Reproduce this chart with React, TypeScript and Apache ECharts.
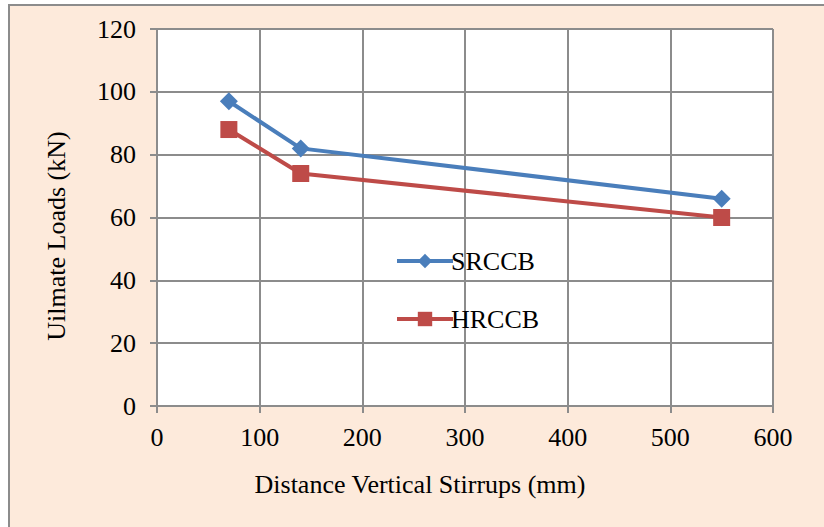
import React, { useEffect, useRef } from "react";
import * as echarts from "echarts";

const xValues = [70, 140, 550];
const srccb = [97, 82, 66];
const hrccb = [88, 74, 60];
const seriesNames = ["SRCCB", "HRCCB"];
const xTitle = "Distance Vertical Stirrups (mm)";
const yTitle = "Uilmate Loads (kN)";

const FONT = "Liberation Serif";
const FS = 26;

export default function App() {
  const ref = useRef<HTMLDivElement>(null);
  useEffect(() => {
    const chart = echarts.init(ref.current!, null, { renderer: "svg" });
    const axisStyle = { color: "#8c8c8c", width: 2 };
    chart.setOption({
      animation: false,
      backgroundColor: "#ffffff",
      graphic: [
        {
          type: "rect",
          z: -10,
          silent: true,
          shape: { x: 9, y: 5, width: 830, height: 540 },
          style: { fill: "#FDEADB", stroke: "#8c8c8c", lineWidth: 2 },
        },
        {
          type: "text",
          x: 420,
          y: 484,
          style: {
            text: xTitle,
            fontFamily: FONT,
            fontSize: FS,
            fill: "#000",
            textAlign: "center",
            textVerticalAlign: "middle",
          },
        },
        {
          type: "text",
          x: 56,
          y: 236,
          rotation: Math.PI / 2,
          style: {
            text: yTitle,
            fontFamily: FONT,
            fontSize: FS,
            fill: "#000",
            textAlign: "center",
            textVerticalAlign: "middle",
          },
        },
      ],
      grid: {
        left: 157,
        top: 29,
        right: 51,
        bottom: 121,
        show: true,
        backgroundColor: "#ffffff",
        borderWidth: 0,
      },
      legend: {
        orient: "vertical",
        left: 390,
        top: 243,
        itemWidth: 56,
        itemHeight: 18,
        itemGap: 32,
        data: seriesNames,
        lineStyle: { width: 4 },
        textStyle: { fontFamily: FONT, fontSize: FS, color: "#000", padding: [0, 0, 0, -7] },
      },
      xAxis: {
        type: "value",
        min: 0,
        max: 600,
        interval: 100,
        axisLine: { show: true, lineStyle: axisStyle },
        axisTick: { show: true, length: 7, lineStyle: axisStyle },
        axisLabel: { fontFamily: FONT, fontSize: FS, color: "#000", margin: 18 },
        splitLine: { show: true, lineStyle: axisStyle },
      },
      yAxis: {
        type: "value",
        min: 0,
        max: 120,
        interval: 20,
        axisLine: { show: true, lineStyle: axisStyle },
        axisTick: { show: true, length: 7, lineStyle: axisStyle },
        axisLabel: { fontFamily: FONT, fontSize: FS, color: "#000", margin: 21 },
        splitLine: { show: true, lineStyle: axisStyle },
      },
      series: [
        {
          name: seriesNames[0],
          type: "line",
          data: xValues.map((x, i) => [x, srccb[i]]),
          symbol: "diamond",
          symbolSize: 18,
          lineStyle: { color: "#4A7EBB", width: 4 },
          itemStyle: { color: "#4A7EBB" },
        },
        {
          name: seriesNames[1],
          type: "line",
          data: xValues.map((x, i) => [x, hrccb[i]]),
          symbol: "rect",
          symbolSize: 17,
          lineStyle: { color: "#BE4B48", width: 4 },
          itemStyle: { color: "#BE4B48" },
        },
      ],
    });
    return () => chart.dispose();
  }, []);
  return (
    <div
      ref={ref}
      style={{ position: "fixed", left: 0, top: 0, width: 824, height: 527 }}
    />
  );
}
